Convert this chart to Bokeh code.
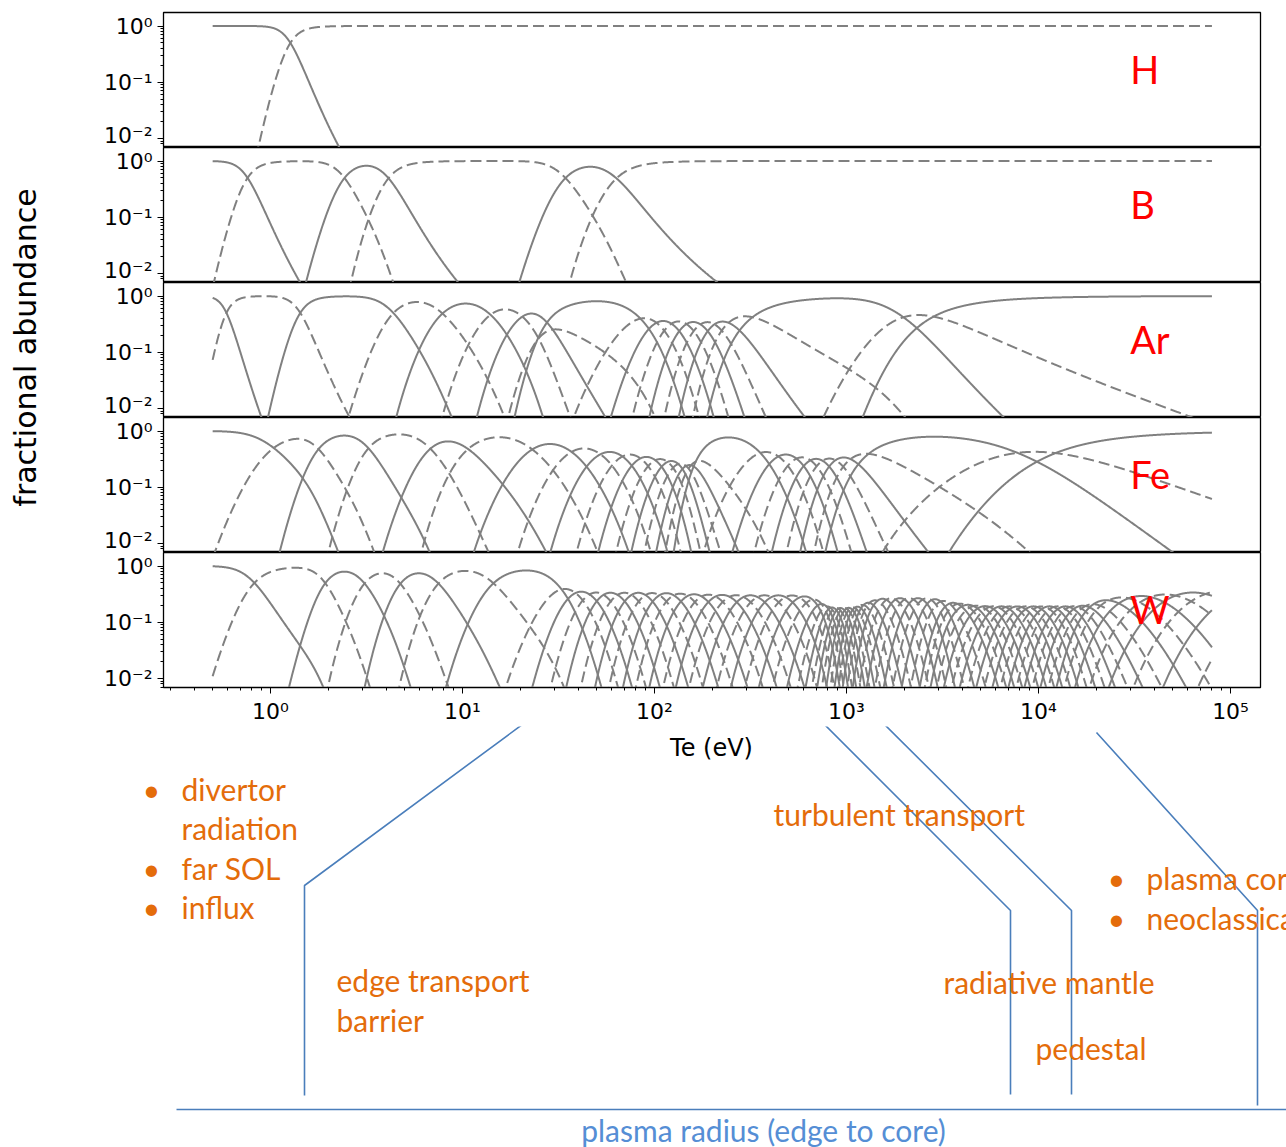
import numpy as np
from bokeh.plotting import figure
from bokeh.models import Range1d, FixedTicker, CustomJSTickFormatter, Label, ColumnDataSource
from bokeh.layouts import column, row
from bokeh.core.properties import value
from bokeh.embed import file_html
from bokeh.resources import INLINE

# Electron temperature span of the computed abundance curves (eV)
TE_MIN, TE_MAX = 0.5, 8.0e4

# For every element: temperature (eV) at which charge states z and z+1 are equally
# abundant, and the steepness of that ionisation/recombination balance.
h_te_cross = [1.27]
h_slope = [9.6]

b_te_cross = [0.76, 2.43, 4.12, 34.4, 63.4]
b_slope = [9.0, 7.5, 7.0, 5.8, 5.0]

ar_te_cross = [0.59, 1.43, 4.37, 7.87, 14.0, 20.5, 29.5, 24.5, 84.5, 102.4,
               122.6, 146.8, 173.6, 205.4, 242.9, 323.9, 1980, 2840]
ar_slope = [13, 9.5, 6, 5, 4.5, 4, 4, 2, 3, 3.2,
            3.2, 3.2, 3.2, 3.2, 3.2, 2.2, 2.3, 1.3]

fe_te_cross = [1.04, 1.78, 3.24, 6.81, 10.7, 23.1, 37.0, 52.3, 68.1, 84.5,
               101, 117, 133, 146, 155, 164, 356, 442, 549, 649,
               750, 876, 1049, 1302, 7775, 12260]
fe_slope = [4, 6.5, 6.5, 5.2, 4.2, 3.5, 3.2, 3, 3, 3,
            3, 3, 3, 3.5, 3.5, 4.5, 3.5, 3, 3, 3,
            3, 3, 3, 1.8, 0.6, 0.55]

w_te_cross = [0.825, 1.93, 3.09, 4.75, 7.50, 14.5, 32.8,
              38.8, 45.9, 54.3, 64.2, 75.9, 89.8, 106, 126, 149, 176,
              208, 246, 291, 344, 407, 481, 569, 665,
              741, 787, 826, 867, 908, 953, 1000, 1049, 1101, 1155, 1226, 1318,
              1449, 1614, 1799, 2004, 2233, 2488, 2772, 3088, 3440,
              3786, 4168, 4586, 5048, 5557, 6112, 6730, 7410, 8150,
              8975, 9880, 10870, 11970, 13180, 14500, 15960, 17570, 19330,
              23170, 29430, 38300, 51730, 74100,
              112800, 182000, 332000, 681000, 1578000]
w_slope = [6, 8, 7, 7, 6, 5, 4,
           3, 3, 3, 3, 3, 3, 3, 2.6, 2.6, 2.6,
           2.2, 2.2, 2.2, 2.2, 2.2, 2.2, 2.2, 2.2,
           3, 3, 3, 3, 3, 3, 3, 3, 3, 3, 3, 3,
           3, 3, 3, 3, 3, 3, 3, 3, 3,
           1.2, 1.2, 1.2, 1.2, 1.2, 1.2, 1.2, 1.2, 1.2,
           1.2, 1.2, 1.2, 1.2, 1.2, 1.2, 1.2, 1.2, 1.2,
           0.8, 0.8, 0.8, 0.8, 0.8,
           0.8, 0.8, 0.8, 0.8, 0.8]

elements = ["H", "B", "Ar", "Fe", "W"]
te_cross = [h_te_cross, b_te_cross, ar_te_cross, fe_te_cross, w_te_cross]
slopes = [h_slope, b_slope, ar_slope, fe_slope, w_slope]

# Axis limits and ticks
X_LIM = (10 ** -0.557, 10 ** 5.156)
Y_LIM = (10 ** -2.16, 10 ** 0.24)
x_major = [1.0, 10.0, 100.0, 1e3, 1e4, 1e5]
x_minor = [m * 10.0 ** e for e in range(-1, 6) for m in range(2, 10)]
y_major = [0.01, 0.1, 1.0]
y_minor = [m * 10.0 ** e for e in range(-3, 1) for m in range(2, 10)]

# Bottom annotation: text and bracket lines (page pixel coordinates)
orange_texts = ["divertor", "radiation", "far SOL", "influx", "turbulent transport",
                "plasma core", "neoclassical", "edge transport", "barrier",
                "radiative mantle", "pedestal"]
orange_pos = [(181, 786), (181, 825), (181, 865), (181, 904), (773, 811),
              (1146, 875), (1146, 915), (336, 977), (336, 1017),
              (943, 979), (1035, 1045)]
bullet_pos = [(151, 786), (151, 865), (151, 904), (1116, 875), (1116, 915)]
bracket_xs = [[530, 304, 304], [818, 1010, 1010], [878, 1071, 1071],
              [1096, 1257, 1257], [176, 1286]]
bracket_ys = [[716, 883, 1093], [716, 908, 1092], [716, 908, 1092],
              [730, 908, 1103], [1107, 1107]]

GRAY = "#808080"
ORANGE = "#E46C0A"
BLUE_LINE = "#4A7EBB"
BLUE_TEXT = "#558ED5"

LABEL_W = 50          # width of the strip holding the shared y label
PANELS_H = 724        # height of the stacked panels incl. the Te axis


def charge_state_fractions(te, cross, slope):
    """Coronal-style balance: ln(n_{z+1}/n_z) vanishes at each crossing temperature."""
    ln_ratio = np.array([k * (1.0 - tc / te) + 1.2 * np.log(te / tc)
                         for tc, k in zip(cross, slope)])
    ln_n = np.vstack([np.zeros_like(te), np.cumsum(ln_ratio, axis=0)])
    ln_n -= ln_n.max(axis=0)
    n = np.exp(ln_n)
    return n / n.sum(axis=0)


SUPERSCRIPT_JS = """
const e = Math.round(Math.log10(tick));
const sup = {"-": "\u207b", "0": "\u2070", "1": "\u00b9", "2": "\u00b2", "3": "\u00b3",
             "4": "\u2074", "5": "\u2075", "6": "\u2076"};
return "10" + String(e).split("").map(c => sup[c]).join("");
"""

te = np.logspace(np.log10(TE_MIN), np.log10(TE_MAX), 3000)

panels = []
for i, (name, cross, slope) in enumerate(zip(elements, te_cross, slopes)):
    first = i == 0
    last = i == len(elements) - 1
    p = figure(frame_width=1097, frame_height=135,
               x_axis_type="log", y_axis_type="log",
               x_range=Range1d(*X_LIM), y_range=Range1d(*Y_LIM),
               x_axis_location="below" if last else None,
               output_backend="svg", toolbar_location=None,
               min_border_left=163 - LABEL_W, min_border_right=26,
               min_border_top=12 if first else 0,
               min_border_bottom=37 if last else 0)
    p.grid.visible = False
    p.outline_line_color = "black"
    p.outline_line_width = 1.3
    p.background_fill_color = "white"
    p.border_fill_color = "white"

    axes = [p.yaxis[0]] + ([p.xaxis[0]] if last else [])
    for ax in axes:
        ax.formatter = CustomJSTickFormatter(code=SUPERSCRIPT_JS)
        ax.major_label_text_font = "DejaVu Sans"
        ax.major_label_text_font_size = "22px"
        ax.major_label_text_color = "black"
        ax.axis_line_color = "black"
        ax.major_tick_line_color = "black"
        ax.minor_tick_line_color = "black"
        ax.major_tick_in = 0
        ax.minor_tick_in = 0
        ax.major_tick_out = 6
        ax.minor_tick_out = 3
    p.yaxis[0].ticker = FixedTicker(ticks=y_major, minor_ticks=y_minor)
    if last:
        p.xaxis[0].ticker = FixedTicker(ticks=x_major, minor_ticks=x_minor)

    frac = charge_state_fractions(te, cross, slope)
    lines = {0: ([], []), 1: ([], [])}
    for z, f in enumerate(frac):
        idx = np.nonzero(f > 1e-4)[0]
        if idx.size == 0:
            continue
        lo, hi = max(idx[0] - 1, 0), min(idx[-1] + 2, te.size)
        lines[z % 2][0].append(te[lo:hi])
        lines[z % 2][1].append(np.clip(f[lo:hi], 1e-6, None))
    # even charge states solid, odd charge states dashed
    p.multi_line(xs=lines[0][0], ys=lines[0][1], line_color=GRAY, line_width=2)
    p.multi_line(xs=lines[1][0], ys=lines[1][1], line_color=GRAY, line_width=2,
                 line_dash="11 5")

    p.add_layout(Label(x=3.0e4, y=0.17, text=name, text_color="red",
                       text_font="Lato", text_font_size="38px",
                       text_baseline="middle", text_align="left"))
    panels.append(p)

# Strip left of the panels carrying the shared y label
lab = figure(width=LABEL_W, height=PANELS_H, x_range=Range1d(0, LABEL_W),
             y_range=Range1d(0, PANELS_H),
             x_axis_location=None, y_axis_location=None,
             output_backend="svg", toolbar_location=None,
             min_border_left=0, min_border_right=0, min_border_top=0, min_border_bottom=0)
lab.grid.visible = False
lab.outline_line_color = None
lab.background_fill_color = "white"
lab.border_fill_color = "white"
lab.text(x=[25], y=[PANELS_H - 347], text=["fractional abundance"], angle=np.pi / 2,
         text_font=value("DejaVu Sans"), text_font_size="30px", text_color="black",
         text_align="center", text_baseline="middle")

# Annotation area below the panels, in page pixel coordinates
ann = figure(width=1286, height=1147 - PANELS_H, x_range=Range1d(0, 1286),
             y_range=Range1d(1147, PANELS_H),
             x_axis_location=None, y_axis_location=None,
             output_backend="svg", toolbar_location=None,
             min_border_left=0, min_border_right=0, min_border_top=0, min_border_bottom=0)
ann.grid.visible = False
ann.outline_line_color = None
ann.background_fill_color = "white"
ann.border_fill_color = "white"

ann.multi_line(xs=bracket_xs, ys=bracket_ys, line_color=BLUE_LINE, line_width=1.6)

ann.text(x=[711], y=[745], text=["Te (eV)"], text_font=value("DejaVu Sans"),
         text_font_size="24px", text_color="black",
         text_align="center", text_baseline="middle")

notes = ColumnDataSource(dict(x=[q[0] for q in orange_pos], y=[q[1] for q in orange_pos],
                              text=orange_texts))
ann.text(x="x", y="y", text="text", source=notes, text_font=value("Lato"),
         text_font_size="30px", text_color=ORANGE,
         text_align="left", text_baseline="middle")
bullets = ColumnDataSource(dict(x=[b[0] for b in bullet_pos], y=[b[1] for b in bullet_pos],
                                text=["\u2022"] * len(bullet_pos)))
ann.text(x="x", y="y", text="text", source=bullets, text_font=value("Lato"),
         text_font_size="30px", text_color=ORANGE,
         text_align="center", text_baseline="middle")
ann.text(x=[763], y=[1127], text=["plasma radius (edge to core)"], text_font=value("Lato"),
         text_font_size="30px", text_color=BLUE_TEXT,
         text_align="center", text_baseline="middle")

top = row(lab, column(*panels, spacing=0), spacing=0)
layout = column(top, ann, spacing=0)

with open("out.html", "w", encoding="utf-8") as fh:
    fh.write(file_html(layout, INLINE))
